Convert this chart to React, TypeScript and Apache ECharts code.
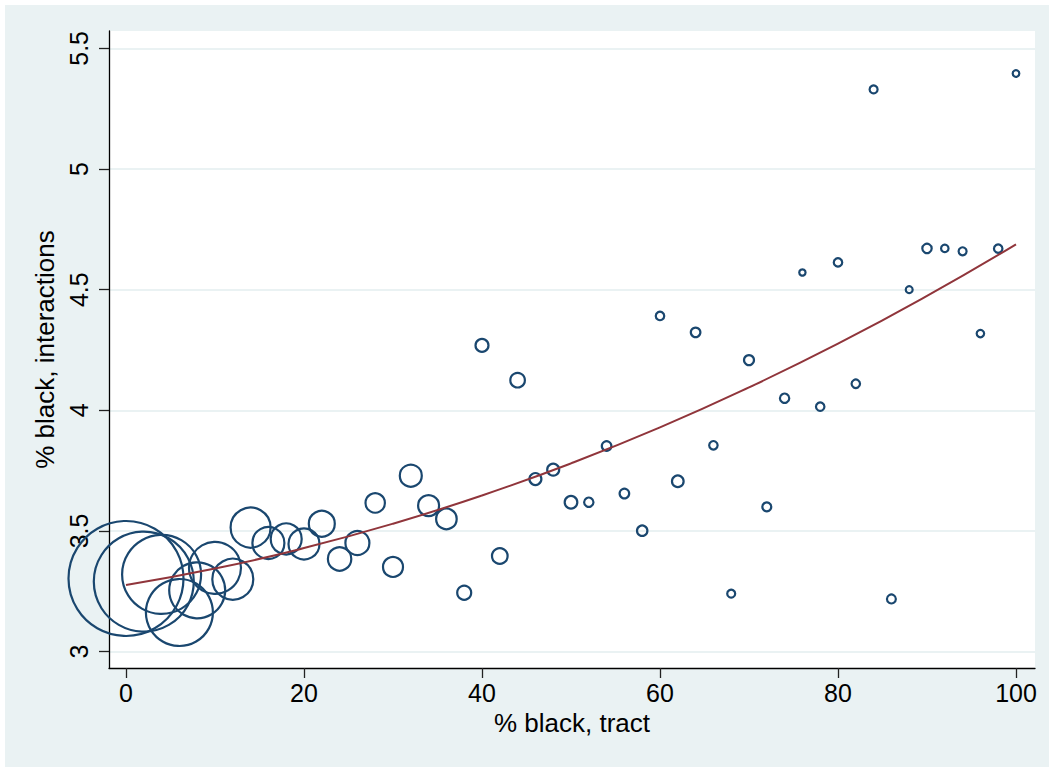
import React, { useEffect, useRef } from "react";
import * as echarts from "echarts";

// % black in tract (bin midpoints)
const tractPct = [
  0, 2, 4, 6, 8, 10, 12, 14, 16, 18, 20, 22, 24, 26, 28, 30, 32, 34, 36, 38, 40,
  42, 44, 46, 48, 50, 52, 54, 56, 58, 60, 62, 64, 66, 68, 70, 72, 74, 76, 78, 80,
  82, 84, 86, 88, 90, 92, 94, 96, 98, 100,
];
// % black among interactions
const interactionPct = [
  3.303, 3.29, 3.32, 3.162, 3.254, 3.347, 3.3, 3.514, 3.45, 3.467, 3.446, 3.53,
  3.384, 3.45, 3.616, 3.351, 3.729, 3.605, 3.55, 3.244, 4.269, 3.396, 4.125,
  3.715, 3.754, 3.619, 3.619, 3.852, 3.655, 3.501, 4.391, 3.706, 4.323, 3.855,
  3.24, 4.208, 3.6, 4.05, 4.571, 4.015, 4.613, 4.11, 5.33, 3.218, 4.5, 4.671,
  4.671, 4.659, 4.318, 4.67, 5.396,
];
// bubble weights (number of observations in bin)
const binWeight = [
  3306, 2500, 1560, 1122, 784, 676, 420, 400, 256, 240, 240, 169, 137, 144, 94,
  100, 121, 110, 106, 49, 42, 61, 53, 36, 36, 40, 22, 23, 23, 27, 18, 34, 23,
  18, 16, 25, 20, 22, 10, 18, 18, 18, 16, 20, 12, 22, 14, 16, 14, 18, 11,
];
// quadratic fit line
const fitX = [0, 10, 20, 30, 40, 50, 60, 70, 80, 90, 100];
const fitY = [3.276, 3.344, 3.429, 3.53, 3.647, 3.78, 3.929, 4.095, 4.276, 4.474, 4.688];

const xTicks = [0, 20, 40, 60, 80, 100];
const yTicks = [3, 3.5, 4, 4.5, 5, 5.5];

export default function App() {
  const ref = useRef<HTMLDivElement>(null);
  useEffect(() => {
    if (!ref.current) return;
    const chart = echarts.init(ref.current, undefined, { renderer: "svg" });
    const font = "'Liberation Sans', Arial, Helvetica, sans-serif";
    const scatterData = tractPct.map((x, i) => [x, interactionPct[i], binWeight[i]]);
    const fitData = fitX.map((x, i) => [x, fitY[i]]);
    chart.setOption({
      animation: false,
      backgroundColor: "#ffffff",
      graphic: [
        {
          type: "rect",
          z: -100,
          silent: true,
          shape: { x: 5, y: 5, width: 1044, height: 762 },
          style: { fill: "#eaf2f3" },
        },
      ],
      grid: {
        left: 109,
        top: 31,
        right: 19,
        bottom: 104,
        show: true,
        backgroundColor: "#ffffff",
        borderWidth: 0,
        containLabel: false,
      },
      xAxis: {
        type: "value",
        min: -1.91,
        max: 102.135,
        name: "% black, tract",
        nameLocation: "middle",
        nameGap: 40,
        nameTextStyle: { fontSize: 26, color: "#000", fontFamily: font },
        axisLine: { show: true, onZero: false, lineStyle: { color: "#000", width: 1.3 } },
        axisTick: { show: true, length: 10, customValues: xTicks, lineStyle: { color: "#222", width: 1.3 } },
        axisLabel: { customValues: xTicks, margin: 12, fontSize: 25, color: "#000", fontFamily: font },
        splitLine: { show: false },
      },
      yAxis: {
        type: "value",
        min: 2.932,
        max: 5.572,
        name: "% black, interactions",
        nameLocation: "middle",
        nameGap: 47,
        nameTextStyle: { fontSize: 26, color: "#000", fontFamily: font },
        axisLine: { show: true, onZero: false, lineStyle: { color: "#000", width: 1.3 } },
        axisTick: { show: true, length: 10, customValues: yTicks, lineStyle: { color: "#222", width: 1.3 } },
        axisLabel: { customValues: yTicks, rotate: 90, margin: 18, fontSize: 25, color: "#000", fontFamily: font },
        splitLine: { show: true, lineStyle: { color: "#eaf2f3", width: 2 } },
      },
      series: [
        {
          type: "scatter",
          data: scatterData,
          symbol: "circle",
          symbolSize: (v: number[]) => 2 * Math.sqrt(v[2]),
          itemStyle: { color: "rgba(0,0,0,0)", borderColor: "#1a476f", borderWidth: 2.2, opacity: 1 },
          z: 2,
        },
        {
          type: "line",
          data: fitData,
          smooth: true,
          showSymbol: false,
          symbol: "none",
          lineStyle: { color: "#90353b", width: 2, opacity: 1 },
          z: 3,
        },
      ],
    });
    return () => chart.dispose();
  }, []);
  return (
    <div
      ref={ref}
      style={{ position: "absolute", left: 0, top: 0, width: 1054, height: 772 }}
    />
  );
}
